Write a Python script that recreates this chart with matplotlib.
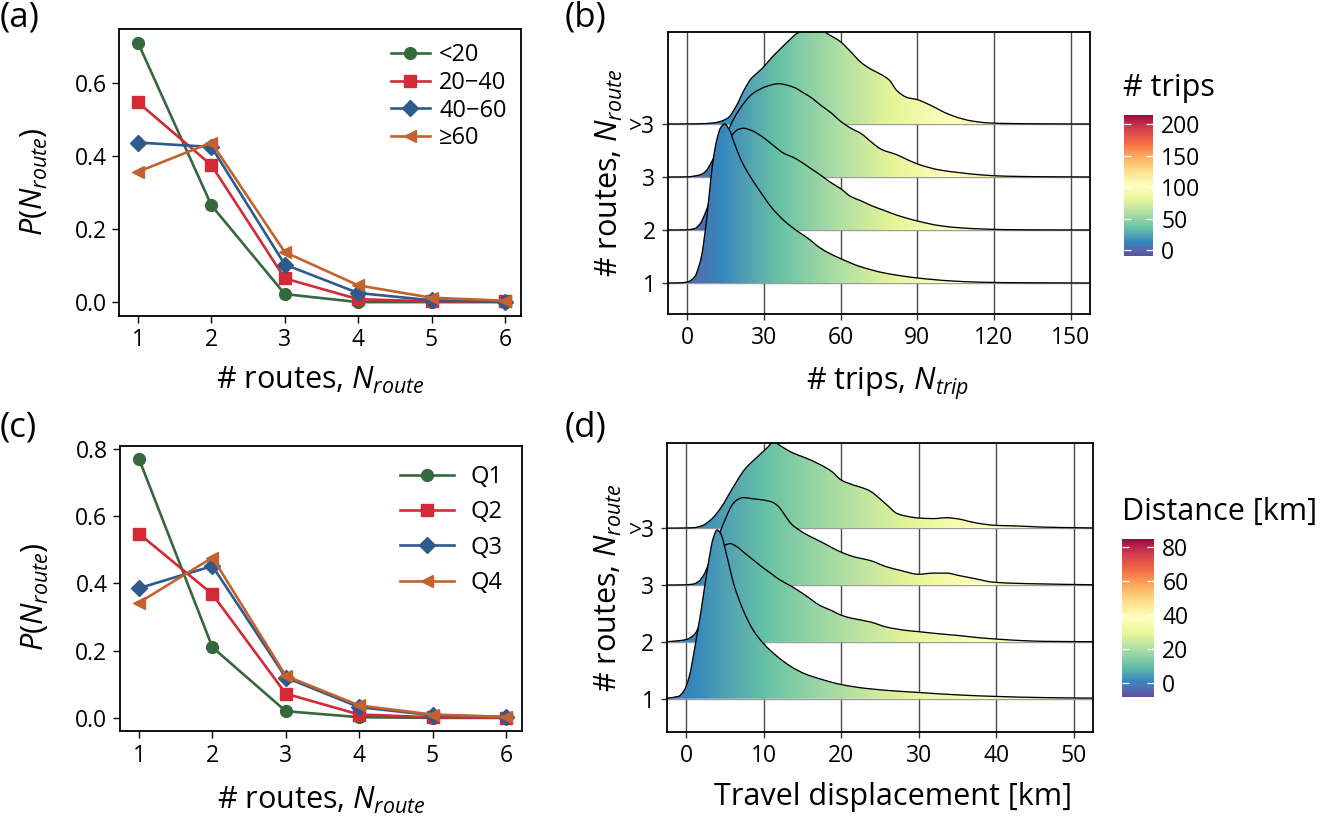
import matplotlib
matplotlib.use("Agg")
import matplotlib.pyplot as plt
import numpy as np
from matplotlib.path import Path
from matplotlib.patches import PathPatch
from matplotlib.colors import Normalize, ListedColormap, to_rgb
import matplotlib.colorbar as mcolorbar

plt.rcParams['font.family'] = ['Open Sans', 'DejaVu Sans']
plt.rcParams['mathtext.fontset'] = 'custom'
plt.rcParams['mathtext.rm'] = 'Open Sans'
plt.rcParams['mathtext.it'] = 'Open Sans:italic'
plt.rcParams['mathtext.bf'] = 'Open Sans:bold'

# ---------------- data ----------------
routes = [1, 2, 3, 4, 5, 6]

# panel (a): groups by number of trips
a_labels = ['<20', '20\u221240', '40\u221260', '\u226560']
a_lt20 = [0.710, 0.265, 0.022, 0.000, 0.000, 0.000]
a_20_40 = [0.547, 0.375, 0.065, 0.008, 0.002, 0.002]
a_40_60 = [0.437, 0.425, 0.103, 0.025, 0.005, 0.001]
a_ge60 = [0.357, 0.437, 0.137, 0.046, 0.012, 0.004]

# panel (c): quartiles
c_labels = ['Q1', 'Q2', 'Q3', 'Q4']
c_q1 = [0.770, 0.210, 0.020, 0.002, 0.000, 0.000]
c_q2 = [0.548, 0.368, 0.072, 0.010, 0.002, 0.001]
c_q3 = [0.386, 0.452, 0.120, 0.032, 0.008, 0.003]
c_q4 = [0.343, 0.477, 0.125, 0.037, 0.010, 0.003]

ridge_labels = ['1', '2', '3', '>3']

# panel (b): ridge densities (x = # trips, h = scaled density height)
trip_x_1 = [-7.6, -3, 0, 2.9, 4.7, 5.5, 7.4, 8.5, 10, 11.5, 13, 14.6, 16.3, 18.3, 21, 23.7, 27.7,
            30, 33, 38, 43, 47, 52, 56, 60, 67, 77, 90, 103, 115, 130, 157.6]
trip_h_1 = [0, 0.003, 0.02, 0.12, 0.35, 0.5, 1.15, 1.65, 2.3, 2.7, 2.93, 3.0, 2.9, 2.65, 2.32, 2.08, 1.78,
            1.62, 1.42, 1.17, 0.98, 0.85, 0.66, 0.55, 0.46, 0.32, 0.19, 0.095, 0.04, 0.015, 0.005, 0]
trip_x_2 = [-7.6, -3, 0, 3, 5, 7, 9.4, 11, 14, 17, 20, 22, 25, 29, 33, 38, 41, 44, 48, 52, 56, 60,
            64, 68, 72, 77, 82, 90, 99, 107, 115, 125, 140, 157.6]
trip_h_2 = [0, 0.002, 0.005, 0.03, 0.12, 0.32, 0.66, 0.95, 1.42, 1.76, 1.9, 1.92, 1.88, 1.77, 1.62, 1.44, 1.38,
            1.3, 1.17, 1.04, 0.9, 0.78, 0.63, 0.55, 0.46, 0.37, 0.28, 0.17, 0.08, 0.04, 0.02, 0.007, 0.002, 0]
trip_x_3 = [-7.6, 0, 4, 5.5, 7.4, 9.4, 11, 14, 16.6, 20, 25.5, 31, 35.5, 41.8, 45, 49, 52, 56, 60, 64,
            68, 72, 76, 82, 86, 91, 99, 107, 115, 125, 140, 157.6]
trip_h_3 = [0, 0.003, 0.03, 0.05, 0.12, 0.28, 0.42, 0.66, 0.95, 1.25, 1.57, 1.71, 1.76, 1.69, 1.6, 1.48, 1.36,
            1.22, 1.05, 0.92, 0.82, 0.66, 0.52, 0.42, 0.33, 0.23, 0.13, 0.08, 0.04, 0.015, 0.005, 0]
trip_x_4 = [-7.6, 0, 5, 10, 13, 16, 19, 22.4, 25, 27, 29.5, 32.9, 36, 39.4, 43.3, 48, 52, 56, 60, 64,
            68, 72, 76, 79, 82, 86, 90, 94, 97, 101, 106, 111, 118, 125, 140, 157.6]
trip_h_4 = [0, 0.002, 0.005, 0.02, 0.05, 0.12, 0.33, 0.66, 0.86, 0.95, 1.06, 1.25, 1.4, 1.56, 1.72, 1.79, 1.77,
            1.67, 1.55, 1.36, 1.16, 1.03, 0.93, 0.83, 0.63, 0.5, 0.46, 0.38, 0.31, 0.21, 0.12, 0.06, 0.02,
            0.01, 0.003, 0]

# panel (d): ridge densities (x = displacement km)
dist_x_1 = [-2.45, -1, -0.3, 0.4, 1.2, 2.0, 2.9, 3.5, 4.0, 4.5, 5.2, 6.2, 7.4, 8.7, 10, 11.8, 13.5, 15.3,
            17.5, 20, 23.3, 27.6, 30, 35.3, 40, 46, 52.5]
dist_h_1 = [0.01, 0.04, 0.13, 0.38, 0.95, 1.6, 2.4, 2.82, 2.97, 2.9, 2.55, 2.0, 1.55, 1.2, 0.97, 0.74, 0.57,
            0.44, 0.34, 0.25, 0.18, 0.13, 0.11, 0.065, 0.04, 0.02, 0.01]
dist_x_2 = [-2.45, -1, 0, 0.5, 1.2, 1.7, 2.3, 3.0, 3.7, 4.4, 5.0, 5.7, 6.5, 7.6, 8.7, 9.8, 11, 12, 13.7,
            15.4, 17.3, 18.8, 20, 21.6, 23.8, 25.9, 28.5, 30, 32.8, 35.3, 38, 40, 43, 46, 52.5]
dist_h_2 = [0.003, 0.02, 0.04, 0.07, 0.15, 0.29, 0.55, 0.95, 1.35, 1.6, 1.7, 1.73, 1.68, 1.56, 1.44, 1.32,
            1.2, 1.1, 0.97, 0.82, 0.64, 0.55, 0.47, 0.41, 0.35, 0.26, 0.2, 0.18, 0.14, 0.11, 0.07, 0.05,
            0.025, 0.01, 0.003]
dist_x_3 = [-2.45, -1, 0, 1, 1.6, 2.3, 3, 3.8, 4.5, 5.2, 5.9, 6.6, 7.4, 8.5, 9.8, 11.1, 11.8, 12.4, 13.0,
            13.7, 14.7, 15.4, 17.3, 20, 21.6, 23.8, 25.9, 27.6, 30, 31.9, 33.6, 35.3, 37, 39.7, 42.7, 46,
            50, 52.5]
dist_h_3 = [0, 0.002, 0.005, 0.02, 0.06, 0.18, 0.4, 0.7, 0.97, 1.2, 1.4, 1.5, 1.54, 1.52, 1.5, 1.46, 1.4,
            1.3, 1.18, 1.06, 0.96, 0.9, 0.77, 0.58, 0.5, 0.43, 0.32, 0.26, 0.19, 0.21, 0.21, 0.165, 0.12,
            0.05, 0.03, 0.02, 0.01, 0.005]
dist_x_4 = [-2.45, 0, 1, 2, 3.3, 4.6, 5.9, 7.6, 9.4, 10.5, 11.3, 12.2, 13.7, 15.4, 17.3, 18.8, 20, 21.6,
            23, 23.8, 25, 26, 27.2, 28.5, 30, 32, 33.6, 35.3, 36.5, 38.5, 40, 42.7, 46, 50, 52.5]
dist_h_4 = [0.002, 0.005, 0.01, 0.04, 0.16, 0.38, 0.68, 1.04, 1.28, 1.42, 1.52, 1.45, 1.33, 1.24, 1.12, 1.0,
            0.85, 0.76, 0.7, 0.65, 0.52, 0.4, 0.26, 0.21, 0.18, 0.17, 0.185, 0.16, 0.12, 0.07, 0.05, 0.04,
            0.02, 0.01, 0.005]

trip_ticks = [0, 30, 60, 90, 120, 150]
dist_ticks = [0, 10, 20, 30, 40, 50]
trip_cbar_ticks = [0, 50, 100, 150, 200]
dist_cbar_ticks = [0, 20, 40, 60, 80]

# Brewer "Spectral" (11 classes), low -> high
spectral_hex = ['#5E4FA2', '#3288BD', '#66C2A5', '#ABDDA4', '#E6F598', '#FFFFBF',
                '#FEE08B', '#FDAE61', '#F46D43', '#D53E4F', '#9E0142']

# ---------------- colormap (Lab interpolation, like ggplot) ----------------
_WHITE = np.array([0.95047, 1.0, 1.08883])
_M = np.array([[0.4124, 0.3576, 0.1805], [0.2126, 0.7152, 0.0722], [0.0193, 0.1192, 0.9505]])
_Minv = np.linalg.inv(_M)


def rgb2lab(rgb):
    c = np.asarray(rgb, float)
    lin = np.where(c <= 0.04045, c / 12.92, ((c + 0.055) / 1.055) ** 2.4)
    xyz = lin @ _M.T / _WHITE
    f = np.where(xyz > 0.008856, np.cbrt(xyz), 7.787 * xyz + 16 / 116)
    return np.stack([116 * f[..., 1] - 16, 500 * (f[..., 0] - f[..., 1]), 200 * (f[..., 1] - f[..., 2])], -1)


def lab2rgb(lab):
    L, a, b = lab[..., 0], lab[..., 1], lab[..., 2]
    fy = (L + 16) / 116
    f = np.stack([fy + a / 500, fy, fy - b / 200], -1)
    t = np.where(f ** 3 > 0.008856, f ** 3, (f - 16 / 116) / 7.787)
    lin = (t * _WHITE) @ _Minv.T
    lin = np.clip(lin, 0, 1)
    return np.clip(np.where(lin <= 0.0031308, 12.92 * lin, 1.055 * lin ** (1 / 2.4) - 0.055), 0, 1)


_labs = rgb2lab(np.array([to_rgb(h) for h in spectral_hex]))
_t = np.linspace(0, 1, 512)
_pos = np.linspace(0, 1, len(spectral_hex))
_lab_i = np.stack([np.interp(_t, _pos, _labs[:, k]) for k in range(3)], -1)
CMAP = ListedColormap(lab2rgb(_lab_i))

# ---------------- styles ----------------
C_GREEN = '#35683d'
C_RED = '#d42a35'
C_BLUE = '#2e5a8c'
C_ORANGE = '#c4622f'
line_colors = [C_GREEN, C_RED, C_BLUE, C_ORANGE]
line_markers = ['o', 's', 'D', '<']
marker_sizes = [8.5, 8, 8, 8.5]

W, H = 1326, 819
fig = plt.figure(figsize=(W / 100, H / 100), dpi=100)


def rect(l, t, r, b):
    return [l / W, 1 - b / H, (r - l) / W, (b - t) / H]


TICK_FS = 16.5
LABEL_FS = 22
LEG_FS = 17


def line_panel(ax, series, labels, ylim, yticks, leg_kw):
    for vals, c, m, ms, lab in zip(series, line_colors, line_markers, marker_sizes, labels):
        ax.plot(routes, vals, color=c, marker=m, ms=ms, lw=1.9, label=lab)
    ax.set_xlim(0.74, 6.22)
    ax.set_ylim(*ylim)
    ax.set_xticks(routes)
    ax.set_yticks(yticks)
    ax.set_yticklabels([f'{v:.1f}' for v in yticks])
    ax.tick_params(labelsize=TICK_FS, length=5, width=1.0, pad=4)
    for s in ax.spines.values():
        s.set_linewidth(1.3)
    ax.set_xlabel(r'# routes, $N_{route}$', fontsize=LABEL_FS)
    ax.set_ylabel(r'$P(N_{route})$', fontsize=LABEL_FS)
    ax.legend(frameon=False, fontsize=LEG_FS, **leg_kw)


axA = fig.add_axes(rect(119, 29, 521, 316))
line_panel(axA, [a_lt20, a_20_40, a_40_60, a_ge60], a_labels, (-0.038, 0.748), [0.0, 0.2, 0.4, 0.6],
           dict(loc='upper right', borderaxespad=0.2, borderpad=0.4, handlelength=1.65,
                handletextpad=0.4, labelspacing=0.16))
axA.xaxis.set_label_coords(0.5, -0.172)
axA.yaxis.set_label_coords(-0.172, 0.47)

axC = fig.add_axes(rect(120, 446, 522, 731))
line_panel(axC, [c_q1, c_q2, c_q3, c_q4], c_labels, (-0.039, 0.809), [0.0, 0.2, 0.4, 0.6, 0.8],
           dict(loc='upper right', borderaxespad=0.4, borderpad=0.4, handlelength=2.3,
                handletextpad=0.7, labelspacing=0.48))
axC.xaxis.set_label_coords(0.5, -0.19)
axC.yaxis.set_label_coords(-0.172, 0.47)


def hermite(xs, ys):
    xs = np.asarray(xs, float)
    ys = np.asarray(ys, float)
    n = len(xs)
    hseg = np.diff(xs)
    d = np.diff(ys) / hseg
    m = np.zeros(n)
    m[0] = d[0]
    m[-1] = d[-1]
    for i in range(1, n - 1):
        if d[i - 1] * d[i] <= 0:
            m[i] = 0.0
        else:
            w1 = 2 * hseg[i] + hseg[i - 1]
            w2 = hseg[i] + 2 * hseg[i - 1]
            m[i] = (w1 + w2) / (w1 / d[i - 1] + w2 / d[i])
    verts = [(xs[0], ys[0])]
    codes = [Path.MOVETO]
    for i in range(n - 1):
        h = hseg[i]
        verts += [(xs[i] + h / 3, ys[i] + m[i] * h / 3),
                  (xs[i + 1] - h / 3, ys[i + 1] - m[i + 1] * h / 3),
                  (xs[i + 1], ys[i + 1])]
        codes += [Path.CURVE4] * 3
    return verts, codes


def draw_ridge(ax, xs, hs, base, norm, z, xlim):
    ys = [base + h for h in hs]
    verts, codes = hermite(xs, ys)
    fverts = verts + [(xs[-1], base), (xs[0], base), (xs[0], ys[0])]
    fcodes = codes + [Path.LINETO, Path.LINETO, Path.CLOSEPOLY]
    clip = PathPatch(Path(fverts, fcodes), transform=ax.transData, facecolor='none', edgecolor='none')
    grad = np.linspace(xlim[0], xlim[1], 800).reshape(1, -1)
    im = ax.imshow(grad, extent=(xlim[0], xlim[1], base, base + max(hs) + 0.1), origin='lower',
                   aspect='auto', cmap=CMAP, norm=norm, interpolation='bilinear', zorder=z)
    im.set_clip_path(clip)
    ax.add_patch(PathPatch(Path(verts, codes), facecolor='none', edgecolor='black', lw=0.95,
                           zorder=z + 0.5))


def ridge_panel(ax, xs_list, hs_list, xlim, ylim, xticks, norm, xlabel):
    for xv in xticks:
        ax.axvline(xv, color='#4a4a4a', lw=1.0, zorder=0.3)
    for b in [1, 2, 3, 4]:
        ax.axhline(b, color='#9c9c9c', lw=1.0, zorder=0.3)
    # draw top ridge first so lower ridges overlap
    for k in range(3, -1, -1):
        draw_ridge(ax, xs_list[k], hs_list[k], k + 1, norm, 1 + (3 - k) * 2, xlim)
    ax.set_xlim(*xlim)
    ax.set_ylim(*ylim)
    ax.set_xticks(xticks)
    ax.set_xticklabels([str(v) for v in xticks])
    ax.set_yticks([1, 2, 3, 4])
    ax.set_yticklabels(ridge_labels)
    ax.tick_params(labelsize=TICK_FS, length=4, width=1.0, color='#333333', pad=5)
    for s in ax.spines.values():
        s.set_linewidth(1.3)
        s.set_zorder(20)
    ax.set_xlabel(xlabel, fontsize=LABEL_FS)
    ax.set_ylabel(r'# routes, $N_{route}$', fontsize=LABEL_FS)


trip_norm = Normalize(vmin=-9, vmax=215)
axB = fig.add_axes(rect(668, 32, 1090, 314))
ridge_panel(axB, [trip_x_1, trip_x_2, trip_x_3, trip_x_4], [trip_h_1, trip_h_2, trip_h_3, trip_h_4],
            (-7.6, 157.6), (0.415, 5.736), trip_ticks, trip_norm, r'# trips, $N_{trip}$')
axB.xaxis.set_label_coords(0.52, -0.183)
axB.yaxis.set_label_coords(-0.102, 0.5)

dist_norm = Normalize(vmin=-8.3, vmax=84.9)
axD = fig.add_axes(rect(667, 443, 1093, 732))
ridge_panel(axD, [dist_x_1, dist_x_2, dist_x_3, dist_x_4], [dist_h_1, dist_h_2, dist_h_3, dist_h_4],
            (-2.45, 52.5), (0.414, 5.50), dist_ticks, dist_norm, 'Travel displacement [km]')
axD.xaxis.set_label_coords(0.53, -0.172)
axD.yaxis.set_label_coords(-0.102, 0.5)


def colorbar(r, norm, ticks, title, title_xy):
    cax = fig.add_axes(r)
    cb = mcolorbar.ColorbarBase(cax, cmap=CMAP, norm=norm, orientation='vertical')
    cb.outline.set_visible(False)
    cb.set_ticks(ticks)
    cax.minorticks_off()
    cax.yaxis.set_ticks_position('both')
    cax.tick_params(axis='y', left=True, right=True, direction='in', length=5, width=0.9,
                    color='white', labelleft=False, labelright=True, labelsize=TICK_FS, pad=6)
    fig.text(title_xy[0] / W, 1 - title_xy[1] / H, title, fontsize=LABEL_FS, ha='left', va='baseline')


colorbar(rect(1124, 115, 1153, 256), trip_norm, trip_cbar_ticks, '# trips', (1123, 96))
colorbar(rect(1122, 539, 1154, 697), dist_norm, dist_cbar_ticks, 'Distance [km]', (1122, 520))

PANEL_FS = 25
fig.text(0.0, 1 - 0 / H, '(a)', fontsize=PANEL_FS, ha='left', va='top')
fig.text(565 / W, 1 - 0 / H, '(b)', fontsize=PANEL_FS, ha='left', va='top')
fig.text(0.0, 1 - 410 / H, '(c)', fontsize=PANEL_FS, ha='left', va='top')
fig.text(565 / W, 1 - 410 / H, '(d)', fontsize=PANEL_FS, ha='left', va='top')

fig.savefig('out.png', dpi=100)
